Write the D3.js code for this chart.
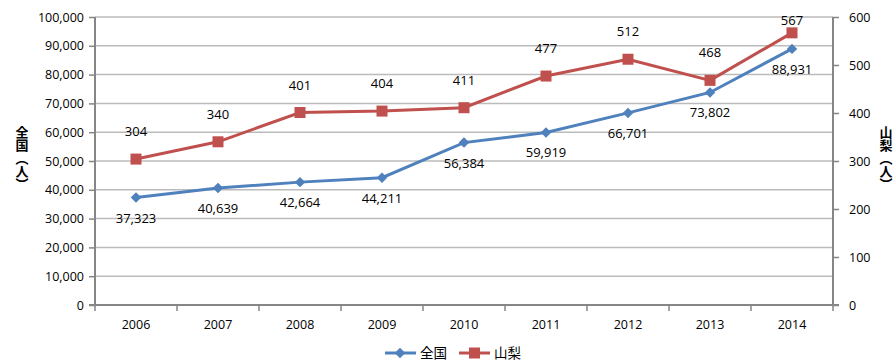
<!DOCTYPE html>
<html><head><meta charset="utf-8">
<script src="https://cdn.jsdelivr.net/npm/d3@7"></script>
<style>body{margin:0;background:#fff}svg{display:block}text{font-family:"Open Sans","Noto Sans CJK JP",sans-serif}</style>
</head><body><svg id="c" width="896" height="362"></svg>
<script>
const years = ["2006","2007","2008","2009","2010","2011","2012","2013","2014"];
const zenkoku = [37323,40639,42664,44211,56384,59919,66701,73802,88931];
const yamanashi = [304,340,401,404,411,477,512,468,567];
const leftTicks = [0,10000,20000,30000,40000,50000,60000,70000,80000,90000,100000];
const rightTicks = [0,100,200,300,400,500,600];
const seriesNames = ["全国","山梨"];

const svg = d3.select("#c");
const L=95,R=833,T=17,B=305;
const x = d3.scaleBand().domain(years).range([L,R]);
const yL = d3.scaleLinear().domain([0,100000]).range([B,T]);
const yR = d3.scaleLinear().domain([0,600]).range([B,T]);
const blue="#4F81BD", red="#C0504D", grid="#BBBBBB", axisC="#868686";

svg.append("g").selectAll("line").data(leftTicks.slice(1)).join("line")
  .attr("x1",L).attr("x2",R).attr("y1",d=>yL(d)).attr("y2",d=>yL(d))
  .attr("stroke",grid).attr("stroke-width",1.5);

const fmt = d3.format(",");
const gl = svg.append("g").attr("transform",`translate(${L},0)`)
  .call(d3.axisLeft(yL).tickValues(leftTicks).tickFormat(fmt).tickSize(6).tickPadding(5));
const gr = svg.append("g").attr("transform",`translate(${R},0)`)
  .call(d3.axisRight(yR).tickValues(rightTicks).tickSize(6).tickPadding(10));
const gb = svg.append("g").attr("transform",`translate(0,${B})`)
  .call(d3.axisBottom(x).tickSize(0).tickPadding(15));
gb.selectAll(".tick").append("line").attr("x1",-x.bandwidth()/2).attr("x2",-x.bandwidth()/2).attr("y2",6);
gb.append("line").attr("x1",R).attr("x2",R).attr("y2",6).attr("stroke",axisC).attr("stroke-width",1.5);
[gl,gr,gb].forEach(g=>{
  g.select(".domain").remove();
  g.selectAll(".tick line").attr("stroke",axisC).attr("stroke-width",1.5);
  g.selectAll("text").attr("font-size",12.5).attr("fill","#000");
});
svg.append("line").attr("x1",L).attr("x2",L).attr("y1",T).attr("y2",B).attr("stroke",axisC).attr("stroke-width",2);
svg.append("line").attr("x1",R).attr("x2",R).attr("y1",T).attr("y2",B).attr("stroke",axisC).attr("stroke-width",2);
svg.append("line").attr("x1",L-6).attr("x2",R+6).attr("y1",B).attr("y2",B).attr("stroke",axisC).attr("stroke-width",2);

svg.append("text").attr("x",20).attr("y",158).attr("text-anchor","middle")
  .style("writing-mode","vertical-rl").attr("font-weight","bold").attr("font-size",13)
  .attr("dominant-baseline","middle").text("全国（人）");
svg.append("text").attr("x",884).attr("y",158).attr("text-anchor","middle")
  .style("writing-mode","vertical-rl").attr("font-weight","bold").attr("font-size",13)
  .attr("dominant-baseline","middle").text("山梨（人）");

const cx = d=>x(d)+x.bandwidth()/2;
const lineL = d3.line().x((d,i)=>cx(years[i])).y(d=>yL(d));
const lineR = d3.line().x((d,i)=>cx(years[i])).y(d=>yR(d));
svg.append("path").datum(zenkoku).attr("d",lineL).attr("fill","none").attr("stroke",blue).attr("stroke-width",3);
svg.append("path").datum(yamanashi).attr("d",lineR).attr("fill","none").attr("stroke",red).attr("stroke-width",3);
svg.append("g").selectAll("path").data(zenkoku).join("path")
  .attr("transform",(d,i)=>`translate(${cx(years[i])},${yL(d)})`)
  .attr("d",d3.symbol(d3.symbolDiamond2,70)()).attr("fill",blue);
svg.append("g").selectAll("rect").data(yamanashi).join("rect")
  .attr("x",(d,i)=>cx(years[i])-5.5).attr("y",d=>yR(d)-5.5).attr("width",11).attr("height",11).attr("fill",red);
svg.append("g").selectAll("text").data(zenkoku).join("text")
  .attr("x",(d,i)=>cx(years[i])).attr("y",d=>yL(d)+25).attr("text-anchor","middle")
  .attr("font-size",13).text(d=>fmt(d));
svg.append("g").selectAll("text").data(yamanashi).join("text")
  .attr("x",(d,i)=>cx(years[i])).attr("y",d=>Math.max(yR(d)-23,25)).attr("text-anchor","middle")
  .attr("font-size",13).text(d=>d);

const lg = svg.append("g").attr("transform","translate(0,353)");
lg.append("line").attr("x1",385).attr("x2",416).attr("stroke",blue).attr("stroke-width",3);
lg.append("path").attr("transform","translate(400,0)").attr("d",d3.symbol(d3.symbolDiamond2,70)()).attr("fill",blue);
lg.append("text").attr("x",420).attr("y",5).attr("font-size",13.5).text(seriesNames[0]);
lg.append("line").attr("x1",459).attr("x2",490).attr("stroke",red).attr("stroke-width",3);
lg.append("rect").attr("x",469).attr("y",-5.5).attr("width",11).attr("height",11).attr("fill",red);
lg.append("text").attr("x",494).attr("y",5).attr("font-size",13.5).text(seriesNames[1]);
</script></body></html>
